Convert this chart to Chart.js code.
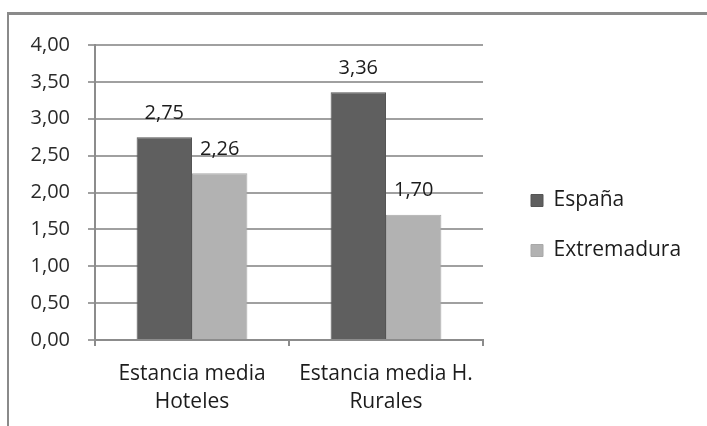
<!DOCTYPE html>
<html>
<head>
<meta charset="utf-8">
<script src="https://cdn.jsdelivr.net/npm/chart.js@4/dist/chart.umd.min.js"></script>
<style>
    html, body { margin: 0; padding: 0; background: #fff; overflow: hidden; }
    #frame {
        position: absolute; left: 7px; top: 12px; width: 800px; height: 500px;
        border-top: 3px solid #8a8a8a; border-left: 2px solid #8a8a8a;
    }
    #wrap { position: absolute; left: 0; top: 0; width: 707px; height: 426px; }
</style>
</head>
<body>
<div id="frame"></div>
<div id="wrap"><canvas id="estanciaChart"></canvas></div>
<script>
const categories = [['Estancia media', 'Hoteles'], ['Estancia media H.', 'Rurales']];
const espana = [2.75, 3.36];
const extremadura = [2.26, 1.70];
const yTicks = [0, 0.5, 1, 1.5, 2, 2.5, 3, 3.5, 4];

const fontFamily = '"Open Sans", "Noto Sans", sans-serif';
const fmt = v => v.toFixed(2).replace('.', ',');

// value labels above each bar
const barValues = {
    id: 'barValues',
    afterDatasetsDraw(chart) {
        const ctx = chart.ctx;
        ctx.save();
        ctx.font = '20px ' + fontFamily;
        ctx.fillStyle = '#1c1c1c';
        ctx.textAlign = 'center';
        ctx.textBaseline = 'middle';
        chart.data.datasets.forEach((ds, i) => {
            chart.getDatasetMeta(i).data.forEach((bar, j) => {
                ctx.fillText(fmt(ds.data[j]), bar.x, bar.y - 24);
            });
        });
        ctx.restore();
    }
};

// fixed legend column, items pushed away from the plot
const legendBox = {
    id: 'legendBox',
    beforeLayout(chart) {
        const legend = chart.legend;
        if (legend && !legend._fixedFit) {
            const fit = legend.fit;
            legend.fit = function () {
                fit.call(this);
                this.width = 224;
            };
            legend._fixedFit = true;
        }
    },
    afterLayout(chart) {
        const lg = chart.legend;
        lg.left += 19;
        lg.right += 19;
        lg.top -= 10;
        lg.bottom -= 10;
    }
};

const data = {
    labels: categories,
    datasets: [{
        label: 'España',
        data: espana,
        backgroundColor: '#5f5f5f',
        borderColor: '#555',
        borderWidth: 1
    }, {
        label: 'Extremadura',
        data: extremadura,
        backgroundColor: '#b2b2b2',
        borderColor: '#a8a8a8',
        borderWidth: 1
    }]
};

const config = {
    type: 'bar',
    data: data,
    options: {
        responsive: true,
        maintainAspectRatio: false,
        animation: false,
        layout: {
            padding: { left: 20, top: 45, right: 0, bottom: 0 }
        },
        datasets: {
            bar: { categoryPercentage: 0.571, barPercentage: 1 }
        },
        scales: {
            x: {
                grid: {
                    drawOnChartArea: false,
                    color: '#8c8c8c',
                    lineWidth: 2,
                    tickLength: 6
                },
                border: { color: '#8c8c8c', width: 2 },
                ticks: {
                    color: '#1c1c1c',
                    padding: 14,
                    font: { family: fontFamily, size: 21, lineHeight: 1.32 }
                },
                afterFit(scale) { scale.height = 86; }
            },
            y: {
                min: 0,
                max: 4,
                afterBuildTicks(scale) {
                    scale.ticks = yTicks.map(v => ({ value: v }));
                },
                grid: {
                    color: '#a0a0a0',
                    lineWidth: 2,
                    tickLength: 7
                },
                border: { color: '#8c8c8c', width: 2 },
                ticks: {
                    color: '#2a2a2a',
                    padding: 18,
                    font: { family: fontFamily, size: 20 },
                    callback: v => fmt(v)
                },
                afterFit(scale) { scale.width = 75; }
            }
        },
        plugins: {
            legend: {
                position: 'right',
                labels: {
                    color: '#1c1c1c',
                    boxWidth: 12,
                    boxHeight: 12,
                    padding: 29,
                    font: { family: fontFamily, size: 21 }
                }
            },
            tooltip: { enabled: false }
        }
    },
    plugins: [barValues, legendBox]
};

const ctx = document.getElementById('estanciaChart').getContext('2d');
new Chart(ctx, config);
</script>
</body>
</html>
